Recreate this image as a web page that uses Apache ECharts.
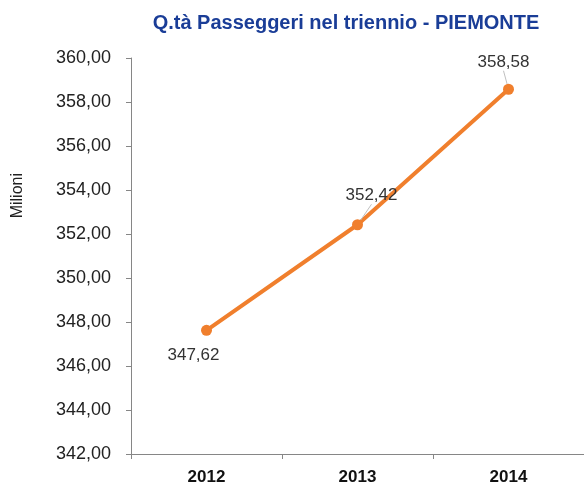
<!DOCTYPE html>
<html>
<head>
<meta charset="utf-8">
<script src="https://cdn.jsdelivr.net/npm/echarts@6/dist/echarts.min.js"></script>
<style>
  html, body { margin: 0; padding: 0; background: #fff; }
  #chart { width: 584px; height: 486px; }
</style>
</head>
<body>
<div id="chart"></div>
<script>
'use strict';
const years = ['2012', '2013', '2014'];
const passengers = [347.62, 352.42, 358.58];
const yTicks = [342, 344, 346, 348, 350, 352, 354, 356, 358, 360];

const fmt = (v) => v.toFixed(2).replace('.', ',');
const font = 'Liberation Sans, Arial, sans-serif';

function init() {
    const chart = echarts.init(document.getElementById('chart'));
    // label shifts: [dx, dy] per point
    const shifts = [[-13, 6], [14, -10], [-5, -8]];
    const option = {
        animation: false,
        title: {
            text: 'Q.tà Passeggeri nel triennio - PIEMONTE',
            left: 341,
            top: 8,
            textAlign: 'center',
            textStyle: { color: '#1a3d97', fontSize: 20, fontWeight: 'bold', fontFamily: font },
        },
        grid: { left: 131, right: 0, top: 58, bottom: 31 },
        xAxis: {
            type: 'category',
            data: years,
            axisLine: { lineStyle: { color: '#868686', width: 1 } },
            axisTick: { show: true, length: 5, lineStyle: { color: '#868686' } },
            axisLabel: { color: '#111', fontSize: 17, fontWeight: 'bold', fontFamily: font, margin: 15 },
        },
        yAxis: {
            type: 'value',
            min: yTicks[0],
            max: yTicks[yTicks.length - 1],
            interval: 2,
            axisLine: { show: true, lineStyle: { color: '#868686', width: 1 } },
            axisTick: { show: true, length: 5, lineStyle: { color: '#868686' } },
            splitLine: { show: false },
            axisLabel: { color: '#222', fontSize: 18, fontFamily: font, margin: 20, formatter: fmt },
        },
        graphic: [{
            type: 'text',
            left: 10,
            top: 173,
            rotation: Math.PI / 2,
            style: { text: 'Milioni', fill: '#222', fontSize: 16, fontFamily: font },
        }],
        series: [{
            type: 'line',
            data: passengers.map((v, i) => ({
                value: v,
                label: { position: i === 0 ? 'bottom' : 'top' },
                labelLine: { show: i !== 0 },
            })),
            symbol: 'circle',
            symbolSize: 11,
            lineStyle: { color: '#f07f2d', width: 4 },
            itemStyle: { color: '#f07f2d' },
            label: {
                show: true,
                color: '#333',
                fontSize: 17,
                fontFamily: font,
                formatter: (p) => fmt(p.value),
            },
            labelLine: { lineStyle: { color: '#bfbfbf', width: 1 } },
            labelLayout: (p) => ({ dx: shifts[p.dataIndex][0], dy: shifts[p.dataIndex][1] }),
        }],
    };
    chart.setOption(option);
}

init();
</script>
</body>
</html>
